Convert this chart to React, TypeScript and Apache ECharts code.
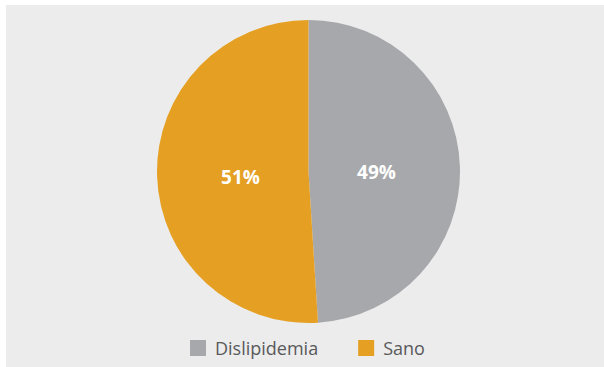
import React, { useEffect, useRef } from "react";
import * as echarts from "echarts";

const categories = ["Dislipidemia", "Sano"];
const values = [49, 51];
const colors = ["#a7a8ab", "#e5a024"];

export default function App() {
  const ref = useRef<HTMLDivElement>(null);
  useEffect(() => {
    document.body.style.margin = "0";
    const chart = echarts.init(ref.current!, undefined, { renderer: "svg" });
    const data = categories.map((name, i) => ({ name, value: values[i] }));
    chart.setOption({
      animation: false,
      backgroundColor: "#ececec",
      color: colors,
      legend: {
        bottom: 5,
        left: 179,
        itemWidth: 16,
        itemHeight: 16,
        itemGap: 40,
        icon: "rect",
        textStyle: { fontFamily: "Open Sans", fontSize: 18, color: "#58595b", padding: [0, 0, 0, 4] },
        data: categories,
      },
      series: [
        {
          type: "pie",
          center: [302.5, 166.5],
          radius: [0, 151.5],
          startAngle: 90,
          clockwise: true,
          label: { show: false },
          labelLine: { show: false },
          itemStyle: { borderWidth: 0 },
          emphasis: { disabled: true },
          data,
        },
        {
          type: "pie",
          center: [302.5, 169.5],
          radius: [0, 130],
          startAngle: 90,
          clockwise: true,
          silent: true,
          label: {
            show: true,
            position: "inside",
            formatter: "{c}%",
            color: "#ffffff",
            fontFamily: "Open Sans",
            fontWeight: "bold",
            fontSize: 19,
          },
          labelLine: { show: false },
          itemStyle: { color: "rgba(0,0,0,0)", borderWidth: 0 },
          emphasis: { disabled: true },
          data,
        },
      ],
    });
    return () => chart.dispose();
  }, []);
  return (
    <div style={{ width: 604, height: 367, background: "#ffffff", position: "relative" }}>
      <div ref={ref} style={{ position: "absolute", left: 6, top: 5, width: 598, height: 362 }} />
    </div>
  );
}
